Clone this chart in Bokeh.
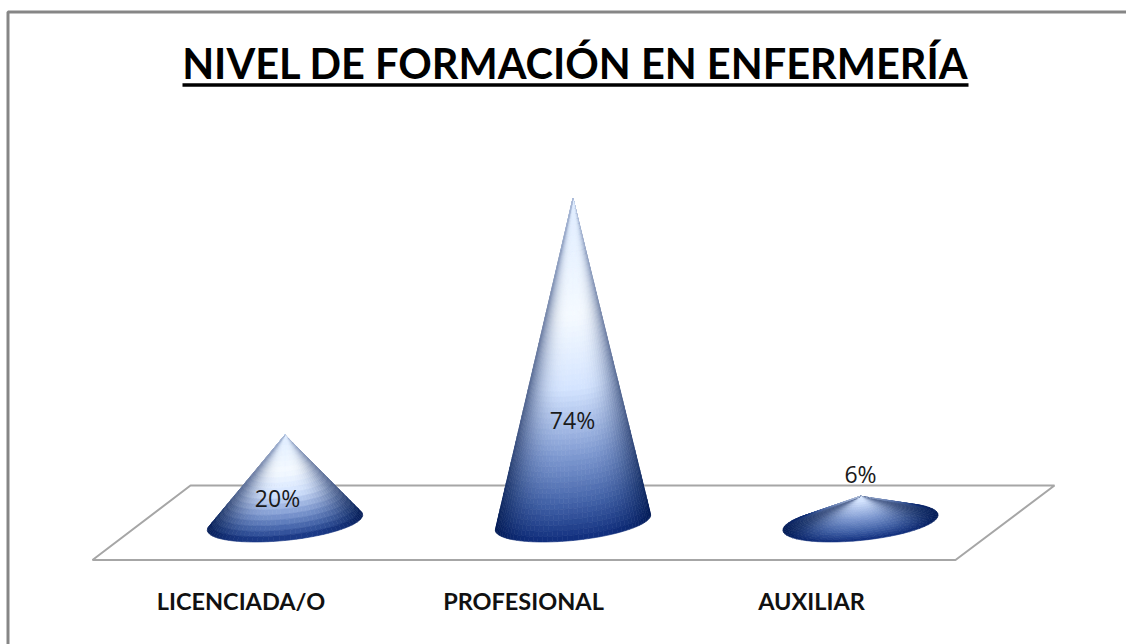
import numpy as np
from bokeh.plotting import figure
from bokeh.embed import file_html
from bokeh.resources import INLINE
from bokeh.core.properties import value
from bokeh.models import Range1d

# data
categories = ["LICENCIADA/O", "PROFESIONAL", "AUXILIAR"]
percentages = [20, 74, 6]
title_text = "NIVEL DE FORMACIÓN EN ENFERMERÍA"

# layout (pixels of the window)
W, H = 1126, 644
BASE_PX = 522.0
PX_PER_PCT = 4.38
cone_x = [284.5, 572.5, 860.0]
label_x = [240.5, 523, 811]
pct_label_px = [(277, 497), (572, 419), (860, 473)]
A_VEC = np.array([77.5, -6.5])
B_VEC = np.array([-4.5, 18.4])
plat_x = [190, 1054, 955, 92]
plat_y = [485, 485, 559.5, 559.5]

p = figure(width=W, height=H, output_backend="svg", toolbar_location=None,
           x_range=Range1d(0, W),
           y_range=Range1d((BASE_PX - H) / PX_PER_PCT, BASE_PX / PX_PER_PCT),
           x_axis_type=None, y_axis_type=None, min_border=0,
           outline_line_color=None, background_fill_color="white")
p.grid.visible = False
p.extra_y_ranges["px"] = Range1d(H, 0)

# chart frame
p.line([7.5, 7.5, W], [H, 11.5, 11.5], y_range_name="px", line_color="#868686", line_width=3)

# title
p.text([575], [62], text=[title_text], y_range_name="px", text_font=value("Lato"),
       text_font_style="bold", text_font_size="41.5px", text_color="black",
       text_align="center", text_baseline="middle")
p.line([182, 968], [84.5, 84.5], y_range_name="px", line_color="black", line_width=3.5)

# floor
p.patch(plat_x + plat_x[:1], plat_y + plat_y[:1], y_range_name="px", fill_color="white",
        line_color="#a6a6a6", line_width=2)


def ramp(v, stops):
    xs = [s[0] for s in stops]
    return np.array([np.interp(v, xs, [s[1][i] for s in stops]) for i in range(3)])


CENTER = [(0, (12, 42, 122)), (.15, (66, 98, 168)), (.3, (125, 152, 208)),
          (.5, (212, 228, 255)), (.7, (245, 250, 255)), (1, (222, 236, 255))]
EDGE = [(0, (0, 24, 84)), (.15, (22, 48, 104)), (.4, (78, 98, 142)),
        (.7, (124, 140, 174)), (1, (170, 186, 216))]


def ellipse(centre, th):
    return centre[None] + np.outer(np.cos(th), A_VEC) + np.outer(np.sin(th), B_VEC)


def visible_arc(centre, apex):
    # walk both ways from the lowest point of the base until the surface turns away
    th = np.linspace(0, 2 * np.pi, 3600, endpoint=False)
    E = ellipse(centre, th)
    dE = -np.outer(np.sin(th), A_VEC) + np.outer(np.cos(th), B_VEC)
    rel = E - apex
    cross = dE[:, 0] * rel[:, 1] - dE[:, 1] * rel[:, 0]
    i0 = int(np.argmax(E[:, 1]))
    sign = np.sign(cross[i0])
    lo = i0
    while np.sign(cross[(lo - 1) % 3600]) == sign and i0 - lo < 3599:
        lo -= 1
    hi = i0
    while np.sign(cross[(hi + 1) % 3600]) == sign and hi - i0 < 3599:
        hi += 1
    step = 2 * np.pi / 3600
    return lo * step + th[0], hi * step + th[0]


def cone_patches(cx, pct):
    apex = np.array([cx, BASE_PX - pct * PX_PER_PCT])
    centre = np.array([cx, BASE_PX])
    h = pct * PX_PER_PCT
    ta, tb = visible_arc(centre, apex)
    n_col = 48
    n_row = int(np.clip(h / 5, 20, 64))
    ths = np.linspace(ta, tb, n_col + 1)
    Ee = ellipse(centre, ths)
    ts = np.linspace(0, 1, n_row + 1)  # 0 apex, 1 base
    f = min(1.0, 0.36 + 0.0074 * h)
    xs, ys, cols = [], [], []
    half = np.abs(Ee[:, 0] - cx).max()
    for r in range(n_row):
        t0, t1 = ts[r], ts[r + 1]
        v = (1 - .5 * (t0 + t1)) ** 0.85 * f
        cc, ec = ramp(v, CENTER), ramp(v, EDGE)
        for c in range(n_col):
            a = apex + t0 * (Ee[c] - apex)
            b = apex + t0 * (Ee[c + 1] - apex)
            d = apex + t1 * (Ee[c + 1] - apex)
            e = apex + t1 * (Ee[c] - apex)
            u = (.5 * (Ee[c, 0] + Ee[c + 1, 0]) - cx) / half
            w = abs(u) ** 3.5
            rgb = cc * (1 - w) + ec * w
            xs.append([a[0], b[0], d[0], e[0]])
            ys.append([(BASE_PX - q[1]) / PX_PER_PCT for q in (a, b, d, e)])
            cols.append("#%02x%02x%02x" % tuple(int(round(i)) for i in rgb))
    return xs, ys, cols


for cx, pct in zip(cone_x, percentages):
    xs, ys, cols = cone_patches(cx, pct)
    p.patches(xs, ys, fill_color=cols, line_color=cols, line_width=0.6)

# value labels
p.text([q[0] for q in pct_label_px], [q[1] for q in pct_label_px],
       text=[f"{v}%" for v in percentages], y_range_name="px",
       text_font=value("Open Sans"), text_font_size="23px", text_color="#1a1a1a",
       text_align="center", text_baseline="middle")

# category labels
p.text(label_x, [600] * 3, text=categories, y_range_name="px", text_font=value("Lato"),
       text_font_style="bold", text_font_size="23.5px", text_color="#111111",
       text_align="center", text_baseline="middle")

open("out.html", "w").write(file_html(p, INLINE))
